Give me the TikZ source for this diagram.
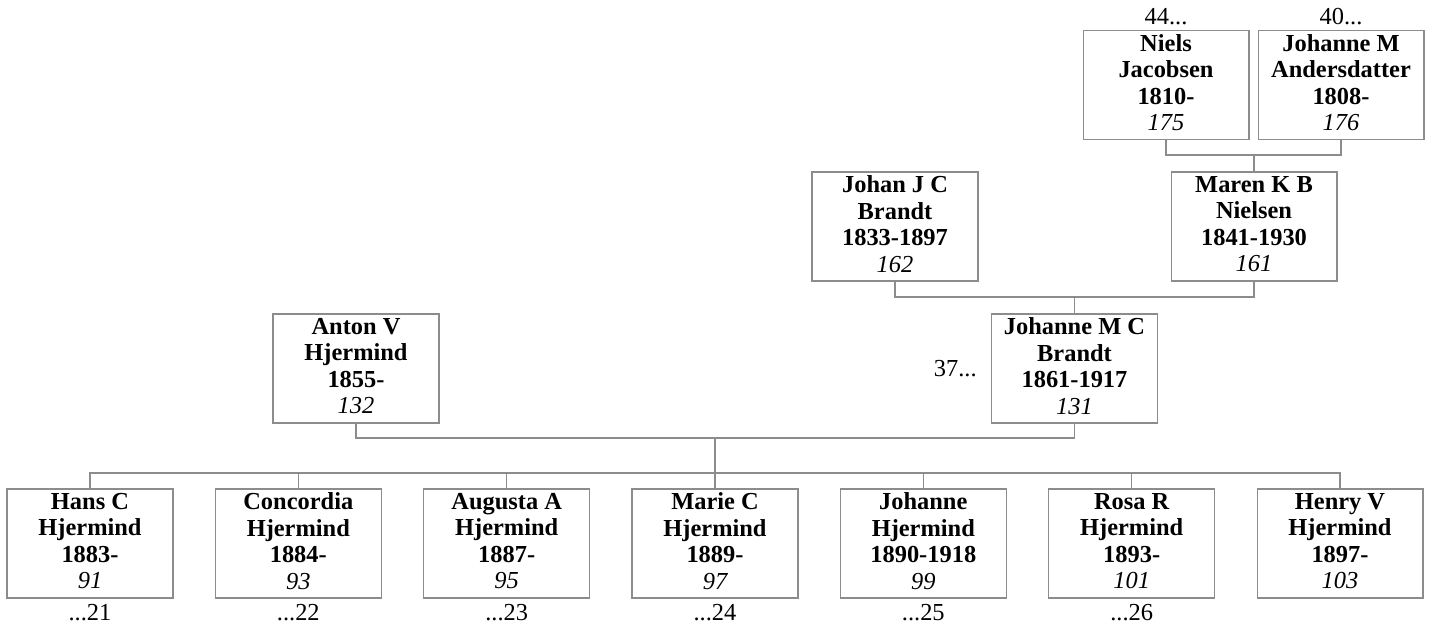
\documentclass[tikz,border=0pt]{standalone}
\usepackage{fontspec}
\setmainfont{Liberation Serif}
\usetikzlibrary{positioning}
\definecolor{linegray}{RGB}{140,140,140}
\newcommand{\boxfont}{\fontsize{13.9pt}{15pt}\selectfont}
\newcommand{\idx}[1]{{\normalfont\boxfont\itshape #1}}
\tikzset{font=\boxfont}
\tikzset{person/.style={draw=linegray, line width=.6pt, minimum width=3.32cm,
    minimum height=2.18cm, inner sep=0pt, align=center, text depth=.1cm,
    font=\boxfont\bfseries}}
\tikzset{link/.style={draw=linegray, line width=.6pt}}
\tikzset{lbl/.style={inner sep=0pt, font=\boxfont}}

\begin{document}
\begin{tikzpicture}[x=.02cm,y=-.02cm]
  \useasboundingbox (0,0) rectangle (1430,623);

  % grandparents and great-grandparents
  \node[person] (niels) at (1166,85) {Niels\\Jacobsen\\1810-\\\idx{175}};
  \node[person] (johannema) at (1341,85) {Johanne M\\Andersdatter\\1808-\\\idx{176}};
  \node[person] (maren) at (1254,226.5) {Maren K B\\Nielsen\\1841-1930\\\idx{161}};
  \node[person] (johan) at (895,226.5) {Johan J C\\Brandt\\1833-1897\\\idx{162}};

  % parents
  \node[person] (johannemc) at (1074.5,368.5) {Johanne M C\\Brandt\\1861-1917\\\idx{131}};
  \node[person] (anton) at (356,368.5) {Anton V\\Hjermind\\1855-\\\idx{132}};

  % children
  \node[person] (hans) at (90,543.5) {Hans C\\Hjermind\\1883-\\\idx{91}};
  \node[person] (concordia) at (298.3,543.5) {Concordia\\Hjermind\\1884-\\\idx{93}};
  \node[person] (augusta) at (506.7,543.5) {Augusta A\\Hjermind\\1887-\\\idx{95}};
  \node[person] (marie) at (715,543.5) {Marie C\\Hjermind\\1889-\\\idx{97}};
  \node[person] (johanne) at (923.3,543.5) {Johanne\\Hjermind\\1890-1918\\\idx{99}};
  \node[person] (rosa) at (1131.7,543.5) {Rosa R\\Hjermind\\1893-\\\idx{101}};
  \node[person] (henry) at (1340,543.5) {Henry V\\Hjermind\\1897-\\\idx{103}};

  % continuation marks
  \node[lbl, above=.1cm of niels] (nielsmore) {44...};
  \node[lbl, above=.1cm of johannema] (johannemamore) {40...};
  \node[lbl, left=.28cm of johannemc] (johannemcmore) {37...};
  \node[lbl, below=.1cm of hans] (hansmore) {...21};
  \node[lbl, below=.1cm of concordia] (concordiamore) {...22};
  \node[lbl, below=.1cm of augusta] (augustamore) {...23};
  \node[lbl, below=.1cm of marie] (mariemore) {...24};
  \node[lbl, below=.1cm of johanne] (johannemore) {...25};
  \node[lbl, below=.1cm of rosa] (rosamore) {...26};

  % junctions
  \coordinate (j1) at (1254,155);
  \coordinate (j2) at (1074.5,297);
  \coordinate (j3) at (715,438);
  \coordinate (bus) at (715,473);

  \draw[link] (niels.south) |- (j1) -| (johannema.south);
  \draw[link] (j1) -- (maren.north);
  \draw[link] (johan.south) |- (j2) -| (maren.south);
  \draw[link] (j2) -- (johannemc.north);
  \draw[link] (anton.south) |- (j3) -| (johannemc.south);
  \draw[link] (j3) -- (bus);
  \draw[link] (hans.north) |- (bus) -| (henry.north);
  \draw[link] (concordia.north) -- (concordia.north |- bus);
  \draw[link] (augusta.north) -- (augusta.north |- bus);
  \draw[link] (marie.north) -- (bus);
  \draw[link] (johanne.north) -- (johanne.north |- bus);
  \draw[link] (rosa.north) -- (rosa.north |- bus);
\end{tikzpicture}
\end{document}
